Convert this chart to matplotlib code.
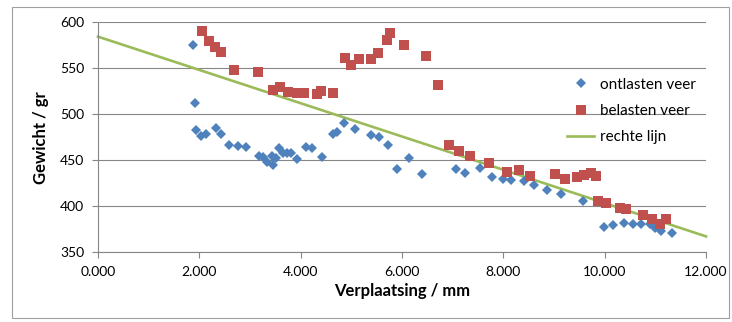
import matplotlib
matplotlib.use("Agg")
import matplotlib.pyplot as plt
from matplotlib.patches import Rectangle
from matplotlib.ticker import FuncFormatter

plt.rcParams['font.family'] = ['Lato', 'DejaVu Sans']

# ontlasten veer (blue diamonds)
ontl_x = [1.87, 1.91, 1.93, 2.03, 2.14, 2.33, 2.43, 2.58, 2.77, 2.93,
          3.18, 3.26, 3.34, 3.43, 3.46, 3.51, 3.58, 3.66, 3.74, 3.81,
          3.92, 4.10, 4.23, 4.43, 4.63, 4.71, 4.86, 5.07, 5.39, 5.55,
          5.73, 5.91, 6.14, 6.40, 7.06, 7.24, 7.53, 7.77, 8.00, 8.15,
          8.40, 8.61, 8.86, 9.14, 9.58, 9.98, 10.17, 10.39, 10.56, 10.72,
          10.89, 11.00, 11.12, 11.32]
ontl_y = [575, 512, 483, 476, 479, 485, 479, 467, 465, 464,
          454, 453, 448, 455, 445, 452, 463, 458, 458, 458,
          451, 464, 463, 453, 479, 481, 490, 484, 477, 475,
          466, 440, 452, 435, 440, 436, 441, 432, 430, 428,
          427, 423, 418, 413, 406, 377, 379, 382, 380, 380,
          380, 376, 373, 371]

# belasten veer (red squares)
bel_x = [2.05, 2.19, 2.31, 2.42, 2.69, 3.15, 3.46, 3.59, 3.75, 3.92,
         4.07, 4.32, 4.41, 4.63, 4.88, 4.99, 5.16, 5.38, 5.53, 5.70,
         5.77, 6.04, 6.48, 6.71, 6.92, 7.13, 7.35, 7.72, 8.07, 8.31,
         8.53, 9.01, 9.21, 9.45, 9.60, 9.74, 9.82, 9.86, 10.02, 10.30,
         10.43, 10.75, 10.94, 11.09, 11.22]
bel_y = [591, 580, 573, 568, 548, 546, 526, 530, 524, 523,
         523, 522, 525, 523, 561, 554, 560, 560, 567, 581,
         589, 575, 563, 532, 466, 460, 454, 447, 437, 439,
         433, 435, 430, 432, 434, 436, 433, 405, 403, 398,
         397, 390, 386, 381, 386]

# rechte lijn
lijn_x = [0.0, 12.0]
lijn_y = [584.5, 367.0]

x_ticks = [0, 2, 4, 6, 8, 10, 12]
y_ticks = [350, 400, 450, 500, 550, 600]

W, H = 732, 322
fig = plt.figure(figsize=(W / 100, H / 100), dpi=100)
ax = fig.add_axes([98 / W, 1 - 252 / H, (706 - 98) / W, (252 - 22.4) / H])

grid_c = '#868686'
ax.set_xlim(0, 12)
ax.set_ylim(350, 600)
ax.set_xticks(x_ticks)
ax.set_yticks(y_ticks)
ax.xaxis.set_major_formatter(FuncFormatter(lambda v, p: f"{v:.3f}"))
ax.yaxis.set_major_formatter(FuncFormatter(lambda v, p: f"{v:.0f}"))
ax.grid(axis='y', color=grid_c, linewidth=0.8, zorder=0)
ax.set_axisbelow(True)
for s in ['top', 'right']:
    ax.spines[s].set_visible(False)
for s in ['left', 'bottom']:
    ax.spines[s].set_color(grid_c)
    ax.spines[s].set_linewidth(0.8)
ax.tick_params(axis='both', direction='out', length=4, width=0.8,
               color=grid_c, labelsize=10, labelcolor='black')
ax.tick_params(axis='x', pad=6)
ax.tick_params(axis='y', pad=6)

ax.plot(ontl_x, ontl_y, linestyle='none', marker='D', markersize=4.9,
        color='#4F81BD', markeredgewidth=0, label='ontlasten veer', zorder=3)
ax.plot(bel_x, bel_y, linestyle='none', marker='s', markersize=6.7,
        color='#C0504D', markeredgewidth=0, label='belasten veer', zorder=3)
ax.plot(lijn_x, lijn_y, color='#9BBB59', linewidth=1.9,
        label='rechte lijn', zorder=2, clip_on=False)

ax.set_xlabel('Verplaatsing / mm', fontsize=12, fontweight='bold', labelpad=4)
ax.set_ylabel('Gewicht / gr', fontsize=12, fontweight='bold', labelpad=8)

leg = ax.legend(loc='upper left', bbox_to_anchor=(553 / W, 1 - 64 / H),
                bbox_transform=fig.transFigure, frameon=False, fontsize=11,
                handlelength=1.8, labelspacing=0.8, handletextpad=0.4)

fig.patches.append(Rectangle((12 / W, 4 / H), (729 - 12) / W, (318 - 7) / H,
                             transform=fig.transFigure, fill=False,
                             edgecolor='#A0A0A0', linewidth=0.8))

fig.savefig('out.png', dpi=100)
